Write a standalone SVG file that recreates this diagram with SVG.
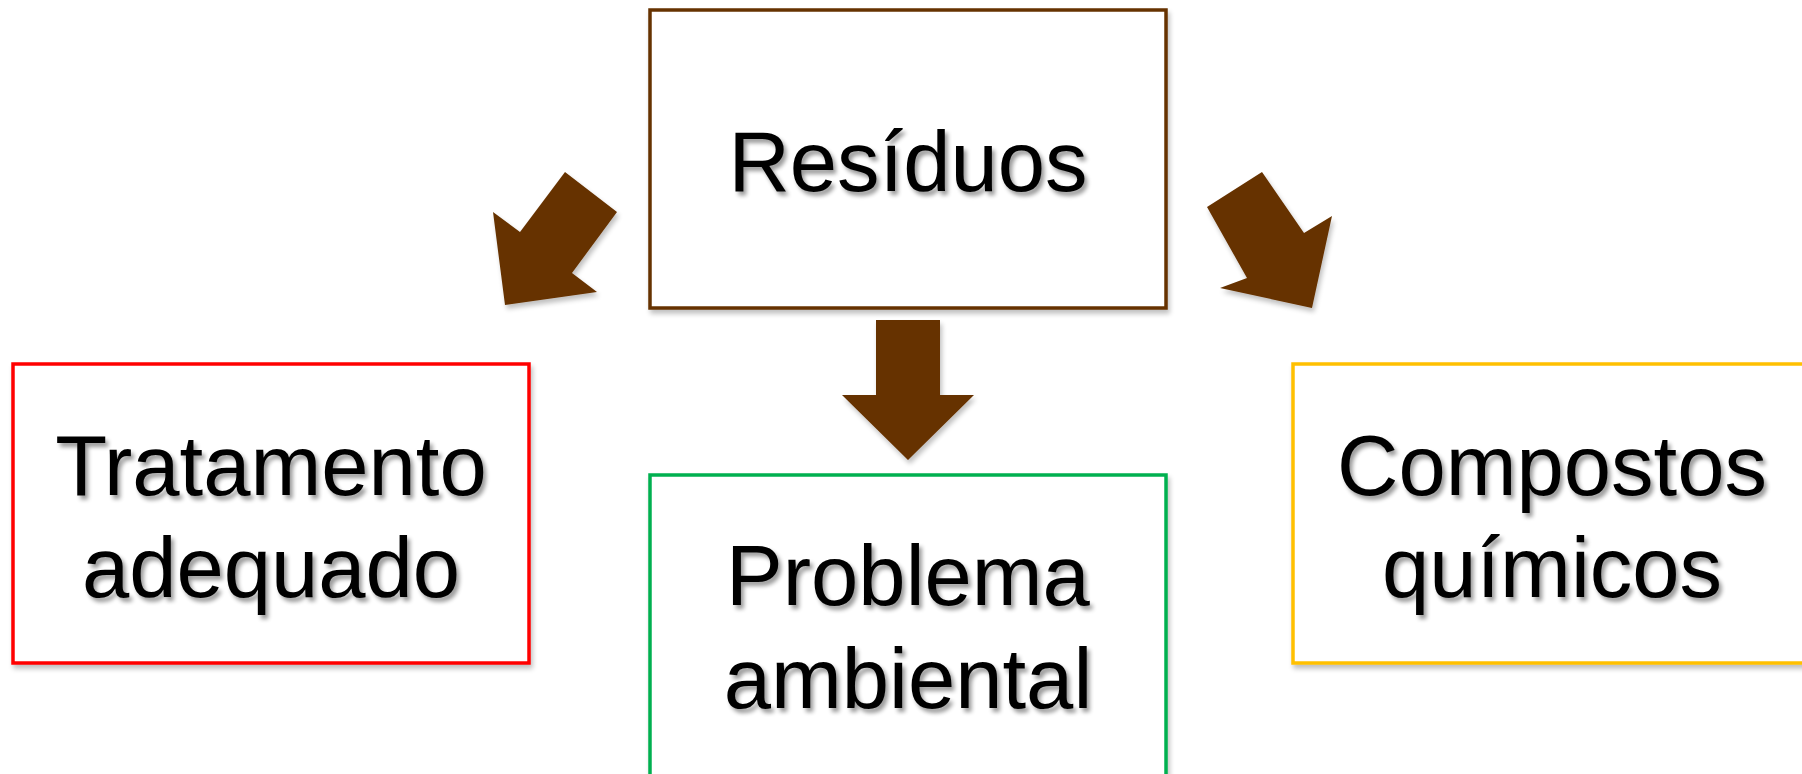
<svg xmlns="http://www.w3.org/2000/svg" width="1802" height="774" viewBox="0 0 1802 774">
<style>
.box{fill:#ffffff;stroke-width:3.5;filter:url(#bshadow)}
.lbl{font-family:"Liberation Sans",Arial,sans-serif;font-size:85px;fill:#000000;text-anchor:middle;filter:url(#tshadow)}
.arr{fill:#663300;filter:url(#bshadow)}
</style>
<defs>
<filter id="tshadow" x="-10%" y="-20%" width="120%" height="150%">
<feGaussianBlur in="SourceAlpha" stdDeviation="2"/>
<feOffset dx="3" dy="4" result="b"/>
<feComponentTransfer><feFuncA type="linear" slope="0.4"/></feComponentTransfer>
<feMerge><feMergeNode/><feMergeNode in="SourceGraphic"/></feMerge>
</filter>
<filter id="bshadow" x="-10%" y="-10%" width="120%" height="125%">
<feGaussianBlur in="SourceAlpha" stdDeviation="2.5"/>
<feOffset dx="2" dy="4" result="b"/>
<feComponentTransfer><feFuncA type="linear" slope="0.25"/></feComponentTransfer>
<feMerge><feMergeNode/><feMergeNode in="SourceGraphic"/></feMerge>
</filter>
</defs>
<rect width="1802" height="774" fill="#ffffff"/>
<g id="connectors">
<polygon class="arr" points="876,320 940,320 940,395 974,395 908,460 842,395 876,395"/>
<polygon class="arr" points="565,172 617,212 572,273 597,292 505,305 493,212 520,232"/>
<polygon class="arr" points="1262,172 1207,207 1247,278 1220,288 1312,308 1332,216 1304,233"/>
</g>
<g id="residuos">
<rect class="box" x="650" y="10" width="516" height="298" stroke="#663300"/>
<text class="lbl" x="908" y="191">Resíduos</text>
</g>
<g id="tratamento">
<rect class="box" x="13" y="364" width="516" height="299" stroke="#ff0000"/>
<text class="lbl" x="271" y="495">Tratamento</text>
<text class="lbl" x="271" y="597">adequado</text>
</g>
<g id="problema">
<rect class="box" x="650" y="475" width="516" height="305" stroke="#00b050"/>
<text class="lbl" x="908" y="605">Problema</text>
<text class="lbl" x="908" y="708">ambiental</text>
</g>
<g id="compostos">
<rect class="box" x="1293" y="364" width="520" height="299" stroke="#ffc000"/>
<text class="lbl" x="1552" y="495">Compostos</text>
<text class="lbl" x="1552" y="597">químicos</text>
</g>
</svg>
